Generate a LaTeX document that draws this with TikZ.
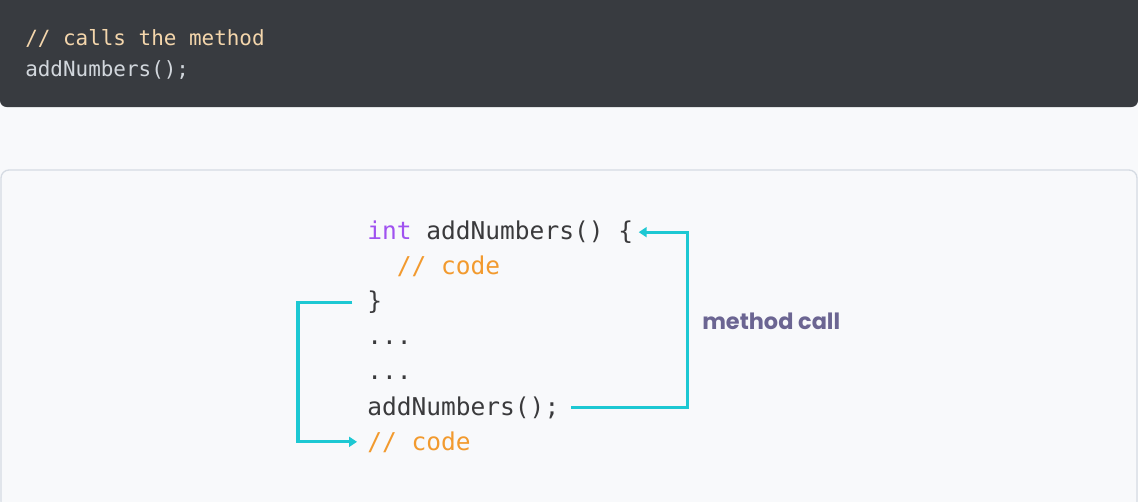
\documentclass[tikz,border=0pt]{standalone}
\usepackage{fontspec}
\usepackage{tikz}
\usetikzlibrary{arrows.meta}
\setmonofont{DejaVu Sans Mono}
\newfontfamily\labelfont{Poppins}

\definecolor{pagebg}{RGB}{248,249,251}
\definecolor{darkpanel}{RGB}{56,59,64}
\definecolor{panelline}{RGB}{213,219,227}
\definecolor{topcomment}{RGB}{244,214,172}
\definecolor{topcode}{RGB}{210,215,221}
\definecolor{codetext}{RGB}{58,58,60}
\definecolor{keyword}{RGB}{160,82,240}
\definecolor{comment}{RGB}{242,154,46}
\definecolor{flowline}{RGB}{29,200,211}
\definecolor{labeltext}{RGB}{107,101,146}

\begin{document}
\begin{tikzpicture}[x=0.75pt,y=0.75pt,yscale=-1,xscale=1,
  topline/.style={anchor=base west,inner sep=0pt,font=\fontsize{15.7}{19}\ttfamily},
  codeline/.style={anchor=base west,inner sep=0pt,text=codetext,font=\fontsize{18.4}{22}\ttfamily},
  link/.style={draw=flowline,line width=2.3pt,-{Triangle[length=6pt,width=7.5pt]}},
  linklabel/.style={anchor=base west,inner sep=0pt,text=labeltext,font=\fontsize{16.8}{20}\labelfont\bfseries}]
\useasboundingbox (0,0) rectangle (1138,501);

%Shape: Background
\fill[pagebg] (0,0) rectangle (1138,501);
%Shape: Dark code panel
\fill[darkpanel,rounded corners=5] (0,-10) rectangle (1138,107);
%Shape: Light panel
\draw[panelline,fill=pagebg,line width=1pt,rounded corners=6] (1,520) -- (1,170) -- (1137,170) -- (1137,520);

% Text Node
\node[topline,text=topcomment] (callcomment) at (25,45.7) {// calls the method};
% Text Node
\node[topline,text=topcode] (callstmt) at (25,76) {addNumbers();};

% Text Node
\node[codeline] (head) at (367,239.5) {\textcolor{keyword}{int} addNumbers() \{};
% Text Node
\node[codeline,text=comment] (body) at (367,274.6) {\ \ // code};
% Text Node
\node[codeline] (close) at (367,309.7) {\}};
% Text Node
\node[codeline] (dotsa) at (367,344.8) {...};
% Text Node
\node[codeline] (dotsb) at (367,379.9) {...};
% Text Node
\node[codeline] (call) at (367,415) {addNumbers();};
% Text Node
\node[codeline,text=comment] (after) at (367,450) {// code};

% Text Node
\node[linklabel] (calllabel) at (702,329) {method call};

%Connector: call to method
\draw[link,shorten <=8.5pt,shorten >=4pt] (call.east) -- ++(128,0) |- (head.east);
%Connector: return after method
\draw[link,shorten <=11pt,shorten >=7.5pt] (close.west) -- ++(-69,0) |- (after.west);

\end{tikzpicture}
\end{document}
